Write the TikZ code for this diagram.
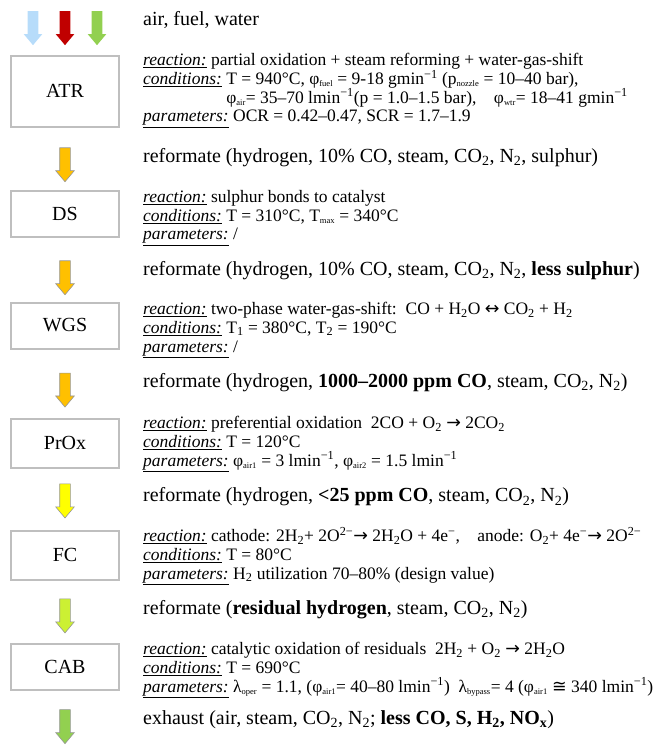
\documentclass[tikz,border=0pt]{standalone}
\usepackage{fontspec}
\setmainfont{Liberation Serif}
\newfontfamily\symfont{DejaVu Sans}
\usetikzlibrary{shapes.arrows,calc}

\definecolor{boxgray}{RGB}{191,191,191}
\definecolor{arrowgray}{RGB}{150,150,150}
\definecolor{airblue}{RGB}{183,220,250}
\definecolor{fuelred}{RGB}{192,0,0}
\definecolor{watergreen}{RGB}{146,208,80}
\definecolor{gasorange}{RGB}{255,192,0}
\definecolor{gasyellow}{RGB}{255,255,0}
\definecolor{gaslime}{RGB}{204,240,51}

\newcommand\lo[1]{\textsubscript{#1}}
\newcommand\lw[1]{\textsubscript{\fontsize{8.5}{9}\selectfont #1}}
\newcommand\hi[1]{\textsuperscript{#1}}
\newcommand\lbl[1]{\underline{\textit{#1}}}
\newcommand\yields{{\symfont →}}
\newcommand\equil{{\symfont ↔}}

\tikzset{
  unitbox/.style={draw=boxgray, line width=2pt, minimum width=108pt,
    font=\fontsize{20}{24}\selectfont},
  flowarrow/.style={single arrow, draw=arrowgray, line width=0.6pt,
    shape border rotate=270, minimum height=34pt, inner sep=5pt,
    single arrow head extend=4pt, single arrow tip angle=80},
  feedarrow/.style={flowarrow, draw=none},
  stream/.style={anchor=west, inner sep=0pt, font=\fontsize{20}{24}\selectfont},
  info/.style={anchor=north west, inner sep=0pt, align=left,
    font=\fontsize{17.5}{18.8}\selectfont},
}

\begin{document}
\begin{tikzpicture}[x=1pt, y=-1pt]
    \useasboundingbox (0,0) rectangle (666,747);

    % Feeds
    \node[feedarrow, fill=airblue] (air) at (33,25) {};
    \node[feedarrow, fill=fuelred] (fuel) at (65,25) {};
    \node[feedarrow, fill=watergreen] (water) at (97,25) {};
    \node[stream] (feed) at (143,20) {air, fuel, water};

    % Units
    \node[unitbox, minimum height=71pt] (atr) at (65,91) {ATR};
    \node[unitbox, minimum height=46pt] (ds) at (65,213.5) {DS};
    \node[unitbox, minimum height=46pt] (wgs) at (65,325.5) {WGS};
    \node[unitbox, minimum height=49pt] (prox) at (65,443) {PrOx};
    \node[unitbox, minimum height=49pt] (fc) at (65,555) {FC};
    \node[unitbox, minimum height=46pt] (cab) at (65,666.5) {CAB};

    % Flow between units
    \node[flowarrow, fill=gasorange] (a1) at ($(atr.south)!0.55!(ds.north)$) {};
    \node[flowarrow, fill=gasorange] (a2) at ($(ds.south)!0.58!(wgs.north)$) {};
    \node[flowarrow, fill=gasorange] (a3) at ($(wgs.south)!0.55!(prox.north)$) {};
    \node[flowarrow, fill=gasyellow] (a4) at ($(prox.south)!0.48!(fc.north)$) {};
    \node[flowarrow, fill=gaslime] (a5) at ($(fc.south)!0.52!(cab.north)$) {};
    \node[flowarrow, fill=watergreen] (a6) at ($(cab.south)+(0,33)$) {};

    % Streams
    \node[stream] (s1) at (143,158) {reformate (hydrogen, 10\% CO, steam, CO\lo{2}, N\lo{2}, sulphur)};
    \node[stream] (s2) at (143,271) {reformate (hydrogen, 10\% CO, steam, CO\lo{2}, N\lo{2}, \textbf{less sulphur})};
    \node[stream] (s3) at (143,383) {reformate (hydrogen, \textbf{1000–2000 ppm CO}, steam, CO\lo{2}, N\lo{2})};
    \node[stream] (s4) at (143,497) {reformate (hydrogen, \textbf{<25 ppm CO}, steam, CO\lo{2}, N\lo{2})};
    \node[stream] (s5) at (143,610) {reformate (\textbf{residual hydrogen}, steam, CO\lo{2}, N\lo{2})};
    \node[stream] (s6) at (143,720) {exhaust (air, steam, CO\lo{2}, N\lo{2}; \textbf{less CO, S, H\lo{2}, NO\lo{x}})};

    % Unit data
    \node[info] (atrinfo) at (143,53) {\lbl{reaction:} partial oxidation + steam reforming + water-gas-shift\\
      \lbl{conditions:} T = 940°C, φ\lw{fuel} = 9-18 gmin\hi{−1} (p\lw{nozzle} = 10–40 bar),\\
      \phantom{\lbl{conditions:} }φ\lw{air}= 35–70 lmin\hi{−1}(p = 1.0–1.5 bar),\quad φ\lw{wtr}= 18–41 gmin\hi{−1}\\
      \lbl{parameters:} OCR = 0.42–0.47, SCR = 1.7–1.9};
    \node[info] (dsinfo) at (143,190) {\lbl{reaction:} sulphur bonds to catalyst\\
      \lbl{conditions:} T = 310°C, T\lw{max} = 340°C\\
      \lbl{parameters:} /};
    \node[info] (wgsinfo) at (143,302) {\lbl{reaction:} two-phase water-gas-shift:\ \ CO + H\lo{2}O \equil{} CO\lo{2} + H\lo{2}\\
      \lbl{conditions:} T\lo{1} = 380°C, T\lo{2} = 190°C\\
      \lbl{parameters:} /};
    \node[info] (proxinfo) at (143,416) {\lbl{reaction:} preferential oxidation\ \ 2CO + O\lo{2} \yields{} 2CO\lo{2}\\
      \lbl{conditions:} T = 120°C\\
      \lbl{parameters:} φ\lw{air1} = 3 lmin\hi{−1}, φ\lw{air2} = 1.5 lmin\hi{−1}};
    \node[info] (fcinfo) at (143,527) {\lbl{reaction:} cathode: 2H\lo{2}+ 2O\hi{2−}\yields{} 2H\lo{2}O + 4e\hi{−},\quad anode: O\lo{2}+ 4e\hi{−}\yields{} 2O\hi{2−}\\
      \lbl{conditions:} T = 80°C\\
      \lbl{parameters:} H\lo{2} utilization 70–80\% (design value)};
    \node[info] (cabinfo) at (143,642) {\lbl{reaction:} catalytic oxidation of residuals\ \ 2H\lo{2} + O\lo{2} \yields{} 2H\lo{2}O\\
      \lbl{conditions:} T = 690°C\\
      \lbl{parameters:} λ\lw{oper} = 1.1, (φ\lw{air1}= 40–80 lmin\hi{−1})\ \ λ\lw{bypass}= 4 (φ\lw{air1} {\symfont ≅} 340 lmin\hi{−1})};
\end{tikzpicture}
\end{document}
